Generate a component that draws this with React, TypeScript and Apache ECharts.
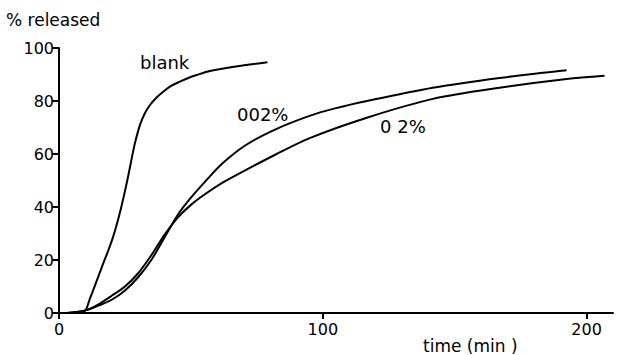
import React, { useEffect, useRef } from "react";
import * as echarts from "echarts";

const blankX = [3, 7, 9.85, 11.5, 13, 15, 16.8, 18.7, 20.6, 22.2, 23.75, 25, 26.25, 27.2, 28.1, 29, 30.7, 32.5, 34.5, 37, 39.5, 42.5, 45.8, 49, 52.2, 57.2, 67, 79];
const blankY = [0, 0.3, 0.8, 4.8, 8.7, 14, 18.8, 23.6, 29, 34.5, 40.6, 46, 51.8, 56.5, 61, 65, 71, 75.3, 78.5, 81.3, 83.5, 85.7, 87.3, 88.7, 89.8, 91.3, 93, 94.6];

const low002X = [3, 10, 15, 20, 25, 30, 35, 40, 45, 50, 55.3, 62, 71, 82.5, 95, 105, 116.7, 141.7, 167, 192.4];
const low002Y = [0, 1, 2.8, 5, 8.5, 13.5, 20, 28.5, 37, 43.5, 49.5, 56.5, 63.5, 69.5, 74.4, 77.3, 80, 85, 88.7, 91.6];

const p2X = [3, 10, 15, 20, 25, 30, 35, 40, 45, 50, 55.3, 62, 68.6, 82.5, 95, 116.7, 141.7, 167, 192.4, 206.8];
const p2Y = [0, 1, 3.3, 6.5, 10, 15, 21.8, 29.5, 36, 40.8, 44.8, 49.2, 52.8, 60, 66, 73.7, 80.8, 85, 88.3, 89.5];

const xTicks = [0, 100, 200];
const seriesNames = ["blank", "002%", "0 2%"];

const FONT = "DejaVu Sans";

function pairs(xs: number[], ys: number[]) {
  return xs.map((x, i) => [x, ys[i]]);
}

export default function App() {
  const ref = useRef<HTMLDivElement>(null);
  useEffect(() => {
    const chart = echarts.init(ref.current!, null, { renderer: "svg" });
    const lineStyle = { color: "#000", width: 2 };
    const common = { type: "line", smooth: 0.3, symbol: "none", lineStyle };
    chart.setOption({
      animation: false,
      backgroundColor: "#fff",
      grid: { left: 59, right: 4, top: 48, bottom: 42 },
      xAxis: {
        type: "value",
        min: 0,
        max: 210,
        splitLine: { show: false },
        axisLine: { lineStyle: { color: "#000", width: 2 } },
        axisTick: { show: true, length: 6, lineStyle: { color: "#000", width: 2 }, customValues: xTicks },
        axisLabel: { color: "#000", fontFamily: FONT, fontSize: 16, margin: 8, customValues: xTicks },
      },
      yAxis: {
        type: "value",
        min: 0,
        max: 100,
        interval: 20,
        splitLine: { show: false },
        axisLine: { show: true, lineStyle: { color: "#000", width: 2 } },
        axisTick: { show: true, length: 7, lineStyle: { color: "#000", width: 2 } },
        axisLabel: { color: "#000", fontFamily: FONT, fontSize: 16, margin: 5 },
      },
      series: [
        { ...common, name: seriesNames[0], data: pairs(blankX, blankY) },
        { ...common, name: seriesNames[1], data: pairs(low002X, low002Y) },
        { ...common, name: seriesNames[2], data: pairs(p2X, p2Y) },
      ],
      graphic: [
        { type: "text", left: 6, top: 11, style: { text: "% released", fontFamily: FONT, fontSize: 17, fill: "#000" } },
        { type: "text", left: 423, top: 337, style: { text: "time (min )", fontFamily: FONT, fontSize: 17, fill: "#000" } },
        { type: "text", left: 140, top: 53, style: { text: seriesNames[0], fontFamily: FONT, fontSize: 18, fill: "#000" } },
        { type: "text", left: 237, top: 105, style: { text: seriesNames[1], fontFamily: FONT, fontSize: 18, fill: "#000" } },
        { type: "text", left: 380, top: 117, style: { text: seriesNames[2], fontFamily: FONT, fontSize: 18, fill: "#000" } },
      ],
    });
    return () => chart.dispose();
  }, []);
  return <div ref={ref} style={{ width: 617, height: 355, position: "absolute", left: 0, top: 0 }} />;
}
